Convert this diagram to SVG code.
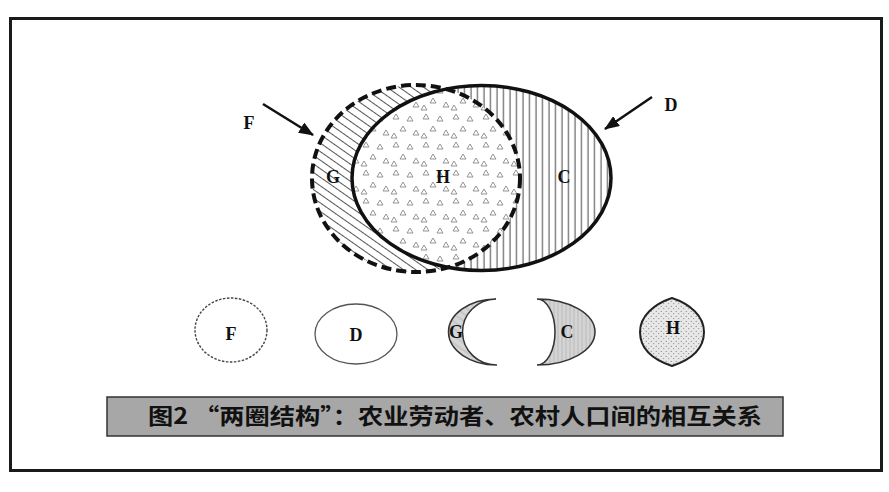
<svg xmlns="http://www.w3.org/2000/svg" width="889" height="492" viewBox="0 0 889 492">
<style>
.lbl{font-family:"Liberation Serif","Times New Roman",serif;font-weight:bold;font-size:18px;fill:#111;text-anchor:middle}
.cap{font-family:"Noto Sans CJK SC","Noto Sans",sans-serif;font-weight:bold;font-size:22px;fill:#111}
.arrow{stroke:#111;stroke-width:2.5;fill:none}
</style>
<defs>
<marker id="ah" markerUnits="userSpaceOnUse" markerWidth="16" markerHeight="12" refX="14" refY="6" orient="auto">
<path d="M0,0 L15,6 L0,12 Z" fill="#111"/>
</marker>
<pattern id="diag" width="7" height="7" patternUnits="userSpaceOnUse" patternTransform="rotate(35)">
<rect width="7" height="7" fill="#fff"/>
<line x1="0" y1="3.5" x2="7" y2="3.5" stroke="#555" stroke-width="1"/>
</pattern>
<pattern id="vert" width="6.5" height="10" patternUnits="userSpaceOnUse">
<rect width="6.5" height="10" fill="#fff"/>
<line x1="3" y1="0" x2="3" y2="10" stroke="#555" stroke-width="1.1"/>
</pattern>
<pattern id="tri" width="30" height="28" patternUnits="userSpaceOnUse">
<rect width="30" height="28" fill="#fff"/>
<g fill="none" stroke="#888" stroke-width="0.9">
<path d="M3,7 l3,-5 l3,5 z"/>
<path d="M17,9 l3,-5 l3,5 z"/>
<path d="M10,19 l3,-5 l3,5 z"/>
<path d="M23,23 l3,-5 l3,5 z"/>
<path d="M1,26 l3,-5 l3,5 z"/>
</g>
</pattern>
<pattern id="dgray" width="6" height="6" patternUnits="userSpaceOnUse" patternTransform="rotate(35)">
<rect width="6" height="6" fill="#d6d6d6"/>
<line x1="0" y1="3" x2="6" y2="3" stroke="#b0b0b0" stroke-width="0.8"/>
</pattern>
<pattern id="vgray" width="4" height="6" patternUnits="userSpaceOnUse">
<rect width="4" height="6" fill="#d4d4d4"/>
<line x1="2" y1="0" x2="2" y2="6" stroke="#b4b4b4" stroke-width="0.8"/>
</pattern>
<pattern id="dots" width="5" height="5" patternUnits="userSpaceOnUse">
<rect width="5" height="5" fill="#e8e8e8"/>
<circle cx="1.2" cy="1.3" r="0.6" fill="#777"/>
<circle cx="3.7" cy="3.6" r="0.6" fill="#888"/>
</pattern>
<clipPath id="clipF"><ellipse cx="416" cy="178.5" rx="104" ry="93.5"/></clipPath>
</defs>

<rect x="10.5" y="18.5" width="871" height="452" fill="#fff" stroke="#1a1a1a" stroke-width="3"/>

<g id="venn">
<ellipse id="regionG" cx="416" cy="178.5" rx="104" ry="93.5" fill="url(#diag)"/>
<ellipse id="regionC" cx="481.5" cy="178" rx="129.5" ry="92.5" fill="url(#vert)"/>
<ellipse id="regionH" cx="481.5" cy="178" rx="129.5" ry="92.5" fill="url(#tri)" clip-path="url(#clipF)"/>
</g>
<g id="nodeD">
<ellipse cx="481.5" cy="178" rx="129.5" ry="92.5" fill="none" stroke="#111" stroke-width="3.5"/>
</g>
<g id="nodeF">
<ellipse cx="416" cy="178.5" rx="104" ry="93.5" fill="none" stroke="#111" stroke-width="4" stroke-dasharray="10 5"/>
</g>
<g id="labels-main">
<text class="lbl" x="249" y="129">F</text>
<text class="lbl" x="671" y="111">D</text>
<text class="lbl" x="333" y="183">G</text>
<text class="lbl" x="443" y="183">H</text>
<text class="lbl" x="564" y="183">C</text>
</g>
<g id="connectors">
<line class="arrow" x1="263" y1="104" x2="313" y2="135" marker-end="url(#ah)"/>
<line class="arrow" x1="652" y1="97" x2="605" y2="129" marker-end="url(#ah)"/>
</g>

<g id="smallF">
<ellipse cx="231" cy="330" rx="36" ry="32" fill="#fff" stroke="#444" stroke-width="1.4" stroke-dasharray="2.5 1.5"/>
<text class="lbl" x="231" y="340">F</text>
</g>
<g id="smallD">
<ellipse cx="356" cy="334" rx="41" ry="30" fill="#fff" stroke="#555" stroke-width="1.3"/>
<text class="lbl" x="356" y="341">D</text>
</g>
<g id="smallG">
<path d="M496,299 A48,33 0 0 0 497,365 A34,33 0 0 1 496,299 Z" fill="url(#dgray)" stroke="#333" stroke-width="1.5"/>
<text class="lbl" x="456" y="338">G</text>
</g>
<g id="smallC">
<path d="M537,299 A58,33 0 0 1 537,365 A18,33 0 0 0 537,299 Z" fill="url(#vgray)" stroke="#333" stroke-width="1.5"/>
<text class="lbl" x="567" y="338">C</text>
</g>
<g id="smallH">
<path d="M672,298 C690,304 704,316 704,332 C704,349 690,360 672,366 C654,360 640,349 640,332 C640,316 654,304 672,298 Z" fill="url(#dots)" stroke="#222" stroke-width="2"/>
<text class="lbl" x="673" y="334">H</text>
</g>

<g id="caption">
<rect x="107" y="397" width="676" height="39" fill="#a7a7a7" stroke="#333" stroke-width="1.5"/>
<text class="cap" x="148" y="424" textLength="614" lengthAdjust="spacingAndGlyphs">图2 “两圈结构”：农业劳动者、农村人口间的相互关系</text>
</g>
</svg>
